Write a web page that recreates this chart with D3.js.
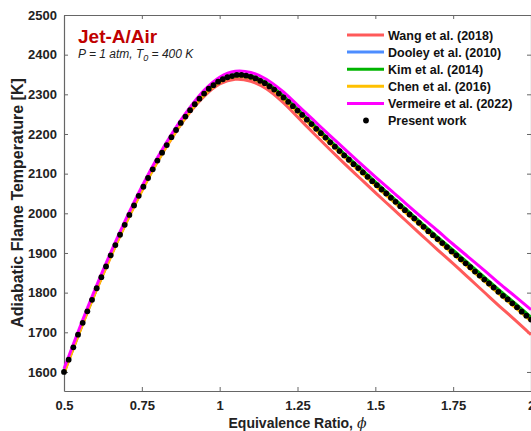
<!DOCTYPE html>
<html>
<head>
<meta charset="utf-8">
<script src="https://cdn.jsdelivr.net/npm/d3@7"></script>
<style>
  body { margin: 0; background: #fff; }
  svg { display: block; font-family: "Liberation Sans", Arial, sans-serif; }
</style>
</head>
<body>
<div id="chart"></div>
<script>
// equivalence ratio grid of the model curves
var phi = [0.5,0.55,0.6,0.65,0.7,0.75,0.8,0.85,0.9,0.95,1.0,1.05,1.1,1.15,1.2,1.25,1.3,1.35,1.4,1.45,1.5,1.55,1.6,1.65,1.7,1.75,1.8,1.85,1.9,1.95,2.0];

// adiabatic flame temperature [K] of each mechanism
var wang     = [1598,1701,1799,1891,1977,2057,2130,2194,2250,2295,2326,2338,2333,2314,2282,2243,2203,2164,2126,2089,2052,2016,1980,1944,1908,1873,1837,1801,1765,1730,1694];
var dooley   = [1601,1705,1803,1895,1981,2061,2134,2199,2256,2303,2335,2349,2345,2327,2297,2261,2223,2185,2148,2112,2076,2041,2006,1971,1937,1903,1869,1835,1801,1768,1734];
var kim      = [1600,1704,1802,1894,1980,2060,2134,2199,2256,2303,2336,2350,2347,2329,2299,2263,2225,2187,2150,2115,2079,2044,2009,1974,1940,1907,1873,1839,1805,1772,1738];
var chen     = [1597,1701,1799,1891,1977,2057,2130,2195,2252,2299,2331,2345,2341,2323,2292,2255,2217,2179,2142,2106,2070,2035,2000,1965,1931,1897,1863,1829,1795,1762,1728];
var vermeire = [1608,1711,1809,1901,1987,2067,2140,2205,2262,2310,2343,2358,2355,2338,2309,2273,2236,2199,2163,2127,2092,2058,2023,1989,1956,1922,1889,1856,1822,1790,1757];

// present work (markers)
var presentPhi = [0.5,0.515,0.53,0.545,0.56,0.575,0.59,0.605,0.62,0.635,0.65,0.665,0.68,0.695,0.71,0.725,0.74,0.755,0.77,0.785,
  0.8,0.815,0.83,0.845,0.86,0.875,0.89,0.905,0.92,0.935,0.95,0.965,0.98,0.995,1.01,1.025,1.04,1.055,1.07,1.085,
  1.1,1.115,1.13,1.145,1.16,1.175,1.19,1.205,1.22,1.235,1.25,1.265,1.28,1.295,1.31,1.325,1.34,1.355,1.37,1.385,
  1.4,1.415,1.43,1.445,1.46,1.475,1.49,1.505,1.52,1.535,1.55,1.565,1.58,1.595,1.61,1.625,1.64,1.655,1.67,1.685,
  1.7,1.715,1.73,1.745,1.76,1.775,1.79,1.805,1.82,1.835,1.85,1.865,1.88,1.895,1.91,1.925,1.94,1.955,1.97,1.985,2.0];
var presentT = [1600,1631,1662,1694,1724,1753,1782,1811,1839,1866,1894,1920,1946,1971,1996,2020,2044,2067,2089,2111,
  2133,2153,2172,2192,2210,2228,2244,2260,2275,2289,2302,2314,2323,2332,2338,2343,2346,2349,2349,2347,
  2344,2340,2334,2328,2320,2312,2302,2292,2281,2270,2259,2248,2236,2225,2213,2202,2191,2179,2168,2157,
  2146,2135,2124,2114,2103,2092,2081,2071,2060,2050,2039,2029,2018,2008,1997,1987,1976,1966,1955,1945,
  1935,1925,1915,1904,1894,1884,1874,1864,1853,1843,1833,1823,1813,1802,1792,1783,1773,1763,1752,1742,1732];

var seriesNames  = ["Wang et al. (2018)", "Dooley et al. (2010)", "Kim et al. (2014)", "Chen et al. (2016)", "Vermeire et al. (2022)"];
var seriesValues = [wang, dooley, kim, chen, vermeire];
var seriesColors = ["#ff5a5a", "#4d8dff", "#00b400", "#ffc000", "#ff00ff"];

var xTicks = [0.5, 0.75, 1, 1.25, 1.5, 1.75, 2];
var yTicks = [1600, 1700, 1800, 1900, 2000, 2100, 2200, 2300, 2400, 2500];

// set the dimensions and margins of the graph
var W = 531, H = 431;
var margin = {top: 15, right: 0, bottom: 40, left: 64},
    width = W - margin.left - margin.right,
    height = H - margin.top - margin.bottom;

var svg = d3.select("#chart")
  .append("svg")
    .attr("width", W)
    .attr("height", H)
  .append("g")
    .attr("transform", "translate(" + margin.left + "," + margin.top + ")");

var x = d3.scaleLinear().domain([0.5, 2]).range([0, width]);
var y = d3.scaleLinear().domain([1552, 2500]).range([height, 0]);

var axisColor = "#666";
var textColor = "#222";

function styleAxis(g, showText) {
  g.select(".domain").attr("stroke", axisColor).attr("stroke-width", 1.2);
  g.selectAll(".tick line").attr("stroke", axisColor);
  g.selectAll(".tick text")
    .attr("fill", textColor)
    .style("font-size", "13px")
    .style("font-weight", "bold")
    .style("display", showText ? null : "none");
}

// bottom / top
svg.append("g")
  .attr("transform", "translate(0," + height + ")")
  .call(d3.axisBottom(x).tickValues(xTicks).tickSizeInner(-4).tickSizeOuter(0).tickPadding(10)
    .tickFormat(function(d) { return String(d); }))
  .call(styleAxis, true);
svg.append("g")
  .call(d3.axisTop(x).tickValues(xTicks).tickSizeInner(-4).tickSizeOuter(0))
  .call(styleAxis, false);

// left / right
svg.append("g")
  .call(d3.axisLeft(y).tickValues(yTicks).tickSizeInner(-4).tickSizeOuter(0).tickPadding(7)
    .tickFormat(d3.format("d")))
  .call(styleAxis, true);
svg.append("g")
  .attr("transform", "translate(" + width + ",0)")
  .call(d3.axisRight(y).tickValues(yTicks).tickSizeInner(-4).tickSizeOuter(0))
  .call(styleAxis, false);

// lines
var line = d3.line()
  .x(function(d, i) { return x(phi[i]); })
  .y(function(d) { return y(d); })
  .curve(d3.curveCatmullRom);

seriesValues.forEach(function(vals, k) {
  svg.append("path")
    .datum(vals)
    .attr("fill", "none")
    .attr("stroke", seriesColors[k])
    .attr("stroke-width", 3)
    .attr("d", line);
});

// present work markers
svg.selectAll(".pw")
  .data(presentT)
  .enter().append("circle")
    .attr("class", "pw")
    .attr("cx", function(d, i) { return x(presentPhi[i]); })
    .attr("cy", function(d) { return y(d); })
    .attr("r", 2.9)
    .attr("fill", "#000");

// titles
svg.append("text")
  .attr("x", 14).attr("y", 28)
  .attr("fill", "#c00000")
  .style("font-size", "19px").style("font-weight", "bold")
  .text("Jet-A/Air");

var sub = svg.append("text")
  .attr("x", 14).attr("y", 43)
  .attr("fill", textColor)
  .style("font-size", "12px").style("font-style", "italic");
sub.append("tspan").text("P = 1 atm, T");
sub.append("tspan").attr("dy", 3).style("font-size", "9px").text("0");
sub.append("tspan").attr("dy", -3).text(" = 400 K");

// axis labels
var xl = svg.append("text")
  .attr("x", width / 2)
  .attr("y", height + 37)
  .attr("text-anchor", "middle")
  .attr("fill", textColor)
  .style("font-size", "14px").style("font-weight", "bold");
xl.append("tspan").text("Equivalence Ratio, ");
xl.append("tspan").style("font-family", "'DejaVu Serif', serif").style("font-style", "italic").style("font-weight", "normal").text("\u03d5");

svg.append("text")
  .attr("transform", "translate(" + (-41) + "," + (height / 2) + ") rotate(-90)")
  .attr("text-anchor", "middle")
  .attr("fill", textColor)
  .style("font-size", "16px").style("font-weight", "bold")
  .text("Adiabatic Flame Temperature [K]");

// legend
var legend = svg.append("g").attr("transform", "translate(" + (347 - margin.left) + "," + (35 - margin.top) + ")");
var rowH = 17.1;
seriesNames.forEach(function(name, k) {
  var r = legend.append("g").attr("transform", "translate(0," + (k * rowH) + ")");
  r.append("line").attr("x1", 0).attr("x2", 37).attr("y1", 0).attr("y2", 0)
    .attr("stroke", seriesColors[k]).attr("stroke-width", 3);
  r.append("text").attr("x", 41).attr("y", 4.5)
    .attr("fill", "#111")
    .style("font-size", "12.5px").style("font-weight", "bold")
    .text(name);
});
var pr = legend.append("g").attr("transform", "translate(0," + (5 * rowH) + ")");
pr.append("circle").attr("cx", 19).attr("cy", 0).attr("r", 2.9).attr("fill", "#000");
pr.append("text").attr("x", 41).attr("y", 4.5)
  .attr("fill", "#111")
  .style("font-size", "12.5px").style("font-weight", "bold")
  .text("Present work");
</script>
</body>
</html>
